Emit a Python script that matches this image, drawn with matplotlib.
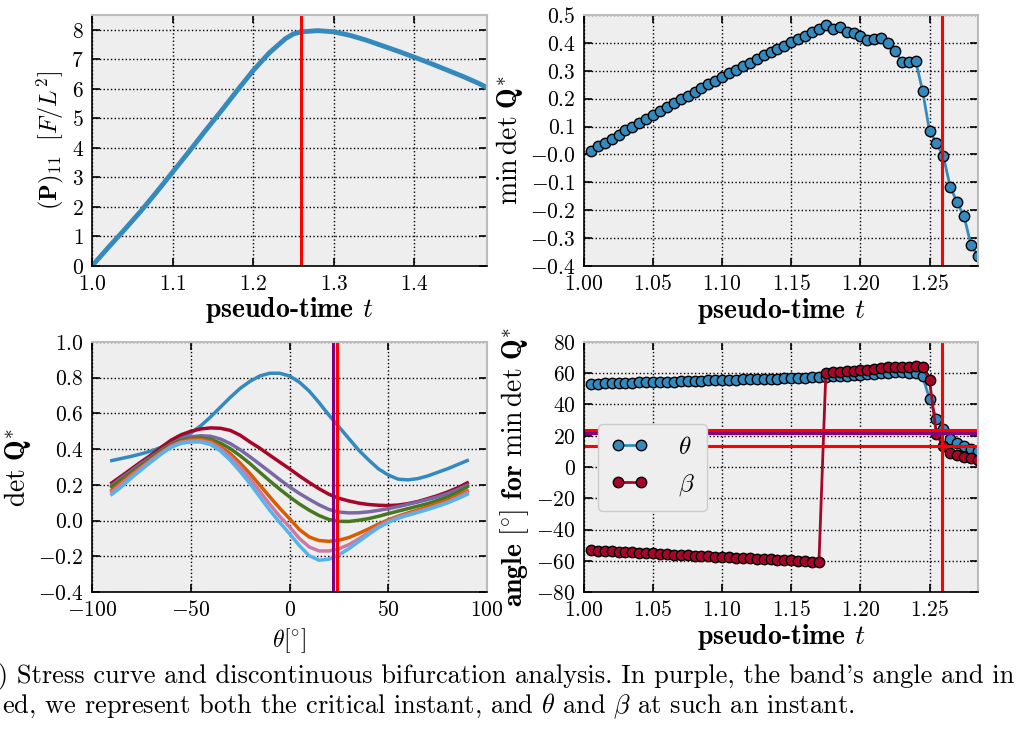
import numpy as np
import matplotlib
matplotlib.use("Agg")
import matplotlib.pyplot as plt

plt.rcParams['font.family'] = 'serif'
plt.rcParams['font.serif'] = ['cmr10']
plt.rcParams['mathtext.fontset'] = 'cm'
plt.rcParams['axes.formatter.use_mathtext'] = True
plt.rcParams['axes.unicode_minus'] = True

BLUE = '#348ABD'
CRIMSON = '#A60628'
CURVE_COLORS = ['#348ABD', '#A60628', '#7A68A6', '#467821', '#D55E00', '#CC79A7', '#56B4E9']

# critical instant and band angles
t_crit = 1.259
theta_crit = 23.9
beta_crit = 13.2
theta_band = 21.8

# stress curve (top left)
t_stress = [1.00, 1.02, 1.04, 1.06, 1.08, 1.10, 1.12, 1.14, 1.16, 1.18, 1.20, 1.22, 1.24,
            1.25, 1.26, 1.28, 1.30, 1.32, 1.34, 1.36, 1.38, 1.40, 1.42, 1.44, 1.46, 1.48, 1.49]
p11 = [0.0, 0.62, 1.22, 1.84, 2.50, 3.18, 3.86, 4.56, 5.24, 5.94, 6.62, 7.22, 7.70,
       7.86, 7.93, 7.97, 7.93, 7.81, 7.65, 7.46, 7.27, 7.07, 6.86, 6.64, 6.42, 6.18, 6.04]

# bifurcation analysis time grid (top right, bottom right)
t_bif = np.linspace(1.005, 1.285, 57)
min_det_q = [0.012, 0.029, 0.041, 0.056, 0.069, 0.086, 0.099, 0.114, 0.128, 0.141,
             0.155, 0.170, 0.184, 0.197, 0.211, 0.225, 0.238, 0.252, 0.264, 0.278,
             0.292, 0.304, 0.318, 0.329, 0.342, 0.355, 0.366, 0.378, 0.390, 0.402,
             0.414, 0.426, 0.439, 0.451, 0.463, 0.449, 0.458, 0.440, 0.436, 0.426,
             0.409, 0.414, 0.418, 0.398, 0.372, 0.331, 0.333, 0.335, 0.227, 0.084,
             0.041, -0.007, -0.117, -0.172, -0.222, -0.325, -0.364]

theta_min = [53.3, 53.4, 53.5, 53.6, 53.7, 53.8, 54.0, 54.1, 54.2, 54.4, 54.5, 54.6,
             54.7, 54.9, 55.0, 55.1, 55.2, 55.4, 55.5, 55.6, 55.7, 55.9, 56.0, 56.1,
             56.2, 56.4, 56.5, 56.6, 56.8, 56.9, 57.0, 57.2, 57.3, 57.5,
             57.7, 58.0, 58.2, 58.4, 58.6, 58.9, 59.3, 59.7, 60.1, 60.4, 60.5, 60.5,
             60.4, 60.3, 58.0, 43.7, 30.9, 24.3, 18.1, 15.4, 13.2, 11.7, 10.2]
beta_min = [-53.3, -53.5, -53.7, -54.0, -54.2, -54.4, -54.6, -54.9, -55.1, -55.3, -55.5,
            -55.8, -56.0, -56.2, -56.4, -56.7, -56.9, -57.1, -57.3, -57.6, -57.8, -58.0,
            -58.2, -58.5, -58.7, -58.9, -59.1, -59.4, -59.6, -59.8, -60.0, -60.3, -60.5, -60.8,
            60.4, 60.8, 61.1, 61.4, 61.6, 61.9, 62.2, 62.7, 63.2, 63.7, 64.0, 64.1,
            64.1, 64.6, 63.8, 55.5, 20.9, 13.2, 9.0, 7.5, 6.4, 5.8, 4.7]

# det Q* over theta for several instants (bottom left), theta every 5 deg
theta_deg = list(range(-90, 91, 5))
det_q_curves = [
    [0.336, 0.348, 0.36, 0.374, 0.39, 0.41, 0.435, 0.46, 0.49, 0.53, 0.58, 0.635, 0.69,
     0.74, 0.78, 0.81, 0.825, 0.825, 0.81, 0.775, 0.725, 0.66, 0.59, 0.525, 0.46, 0.395,
     0.34, 0.29, 0.255, 0.232, 0.228, 0.235, 0.25, 0.27, 0.29, 0.313, 0.336],
    [0.211, 0.25, 0.29, 0.33, 0.368, 0.41, 0.45, 0.48, 0.50, 0.513, 0.519, 0.517, 0.505,
     0.478, 0.44, 0.405, 0.366, 0.328, 0.29, 0.25, 0.213, 0.178, 0.147, 0.125, 0.11, 0.098,
     0.09, 0.086, 0.084, 0.087, 0.095, 0.107, 0.123, 0.14, 0.16, 0.183, 0.211],
    [0.198, 0.24, 0.28, 0.32, 0.357, 0.395, 0.43, 0.455, 0.469, 0.475, 0.472, 0.457, 0.431,
     0.397, 0.357, 0.315, 0.273, 0.23, 0.189, 0.152, 0.119, 0.088, 0.062, 0.048, 0.043, 0.044,
     0.049, 0.057, 0.067, 0.078, 0.091, 0.104, 0.118, 0.133, 0.151, 0.173, 0.198],
    [0.189, 0.23, 0.27, 0.31, 0.351, 0.39, 0.426, 0.448, 0.459, 0.463, 0.455, 0.434, 0.403,
     0.363, 0.319, 0.27, 0.222, 0.176, 0.133, 0.093, 0.058, 0.028, 0.006, -0.004, -0.005, 0.002,
     0.011, 0.024, 0.039, 0.053, 0.067, 0.081, 0.095, 0.113, 0.133, 0.158, 0.189],
    [0.17, 0.215, 0.26, 0.30, 0.342, 0.382, 0.418, 0.442, 0.454, 0.456, 0.444, 0.415, 0.375,
     0.322, 0.263, 0.198, 0.133, 0.07, 0.011, -0.05, -0.092, -0.112, -0.116, -0.11, -0.095, -0.072,
     -0.047, -0.02, 0.004, 0.025, 0.043, 0.06, 0.077, 0.095, 0.114, 0.138, 0.166],
    [0.16, 0.205, 0.25, 0.295, 0.338, 0.378, 0.416, 0.438, 0.446, 0.447, 0.435, 0.403, 0.357,
     0.30, 0.235, 0.163, 0.091, 0.024, -0.035, -0.10, -0.148, -0.17, -0.17, -0.158, -0.135, -0.103,
     -0.067, -0.032, -0.003, 0.02, 0.036, 0.052, 0.067, 0.085, 0.104, 0.128, 0.157],
    [0.147, 0.19, 0.24, 0.285, 0.329, 0.372, 0.41, 0.432, 0.44, 0.44, 0.426, 0.39, 0.338,
     0.275, 0.207, 0.132, 0.058, -0.01, -0.073, -0.14, -0.197, -0.222, -0.216, -0.192, -0.158, -0.118,
     -0.078, -0.04, -0.01, 0.013, 0.03, 0.046, 0.062, 0.08, 0.099, 0.122, 0.147],
]

caption_1 = "(b) Stress curve and discontinuous bifurcation analysis. In purple, the band's angle and in"
caption_2 = r"ed, we represent both the critical instant, and $\theta$ and $\beta$ at such an instant."


def style_ax(ax):
    ax.set_facecolor('#eeeeee')
    for s in ['top', 'right']:
        ax.spines[s].set_color('#bcbcbc')
        ax.spines[s].set_linewidth(1.5)
    for s in ['left', 'bottom']:
        ax.spines[s].set_color('black')
        ax.spines[s].set_linewidth(1.2)
    ax.tick_params(direction='in', top=True, right=True, length=6, width=1.2,
                   labelsize=15.5, pad=6)
    ax.grid(True, linestyle=':', color='black', linewidth=1)
    ax.set_axisbelow(True)


fig = plt.figure(figsize=(10.27, 7.38), dpi=100)
ax1 = fig.add_axes([0.0896, 0.6396, 0.3846, 0.3401])
ax2 = fig.add_axes([0.5686, 0.6396, 0.3836, 0.3401])
ax3 = fig.add_axes([0.0896, 0.1978, 0.3846, 0.3388])
ax4 = fig.add_axes([0.5686, 0.1978, 0.3836, 0.3388])

xlab_kw = dict(fontsize=20, family='cmb10', labelpad=1)
mk_kw = dict(lw=2, marker='o', ms=7.5, markeredgecolor='black', markeredgewidth=1)

# top left: stress curve
style_ax(ax1)
ax1.plot(t_stress, p11, color=BLUE, lw=3.5)
ax1.axvline(t_crit, color='red', lw=2.2)
ax1.set_xlim(1.0, 1.49)
ax1.set_ylim(0, 8.5)
ax1.set_xticks([1.0, 1.1, 1.2, 1.3, 1.4])
ax1.set_yticks(range(0, 9))
ax1.set_xlabel(r"pseudo-time $t$", **xlab_kw)
ax1.set_ylabel(r"$(\mathbf{P})_{11}\ \ [F/L^2]$", fontsize=17.5)

# top right: min det Q*
style_ax(ax2)
ax2.plot(t_bif, min_det_q, color=BLUE, markerfacecolor=BLUE, **mk_kw)
ax2.axvline(t_crit, color='red', lw=2.2)
ax2.set_xlim(1.0, 1.285)
ax2.set_ylim(-0.4, 0.5)
ax2.set_xticks([1.0, 1.05, 1.1, 1.15, 1.2, 1.25])
ax2.set_yticks(np.arange(-0.4, 0.51, 0.1))
ax2.xaxis.set_major_formatter(matplotlib.ticker.FormatStrFormatter(r'$%.2f$'))
ax2.yaxis.set_major_formatter(matplotlib.ticker.FormatStrFormatter(r'$%.1f$'))
ax2.set_xlabel(r"pseudo-time $t$", **xlab_kw)
ax2.set_ylabel(r"$\min\,\det\,\mathbf{Q}^{*}$", fontsize=20)

# bottom left: det Q* over theta
style_ax(ax3)
for vals, c in zip(det_q_curves, CURVE_COLORS):
    ax3.plot(theta_deg, vals, color=c, lw=2.5)
ax3.axvline(theta_band, color='purple', lw=2.2)
ax3.axvline(theta_crit, color='red', lw=2.2)
ax3.set_xlim(-100, 100)
ax3.set_ylim(-0.4, 1.0)
ax3.set_xticks([-100, -50, 0, 50, 100])
ax3.set_yticks(np.arange(-0.4, 1.01, 0.2))
ax3.yaxis.set_major_formatter(matplotlib.ticker.FormatStrFormatter(r'$%.1f$'))
ax3.set_xlabel(r"$\theta[^{\circ}]$", fontsize=17)
ax3.set_ylabel(r"$\det\,\mathbf{Q}^{*}$", fontsize=20)

# bottom right: angles for min det Q*
style_ax(ax4)
ax4.plot(t_bif, theta_min, color=BLUE, markerfacecolor=BLUE, label=r'$\theta$', **mk_kw)
ax4.plot(t_bif, beta_min, color=CRIMSON, markerfacecolor=CRIMSON, label=r'$\beta$', **mk_kw)
ax4.axvline(t_crit, color='red', lw=2.2)
ax4.axhline(theta_crit, color='red', lw=2.2)
ax4.axhline(theta_band, color='purple', lw=2.2)
ax4.axhline(beta_crit, color='red', lw=2.2)
ax4.set_xlim(1.0, 1.285)
ax4.set_ylim(-80, 80)
ax4.set_xticks([1.0, 1.05, 1.1, 1.15, 1.2, 1.25])
ax4.set_yticks(range(-80, 81, 20))
ax4.xaxis.set_major_formatter(matplotlib.ticker.FormatStrFormatter(r'$%.2f$'))
ax4.set_xlabel(r"pseudo-time $t$", **xlab_kw)
ax4.set_ylabel(r"$\mathbf{angle}\ [^{\circ}]\ \mathbf{for}\ \min\,\det\,\mathbf{Q}^{*}$", fontsize=20)
leg = ax4.legend(loc='center left', bbox_to_anchor=(0.036, 0.5), borderaxespad=0,
                 fontsize=18, numpoints=2, handlelength=1.5, handletextpad=1.2,
                 borderpad=0.5, labelspacing=0.55, fancybox=True,
                 facecolor='#eeeeee', edgecolor='#cccccc', framealpha=1)
leg.set_zorder(10)

# caption, cropped at the page edges
fig.text(-0.026, 0.074, caption_1, fontsize=19, va='baseline', ha='left')
fig.text(0.002, 0.034, caption_2, fontsize=19, va='baseline', ha='left')

fig.savefig("out.png", dpi=100)
